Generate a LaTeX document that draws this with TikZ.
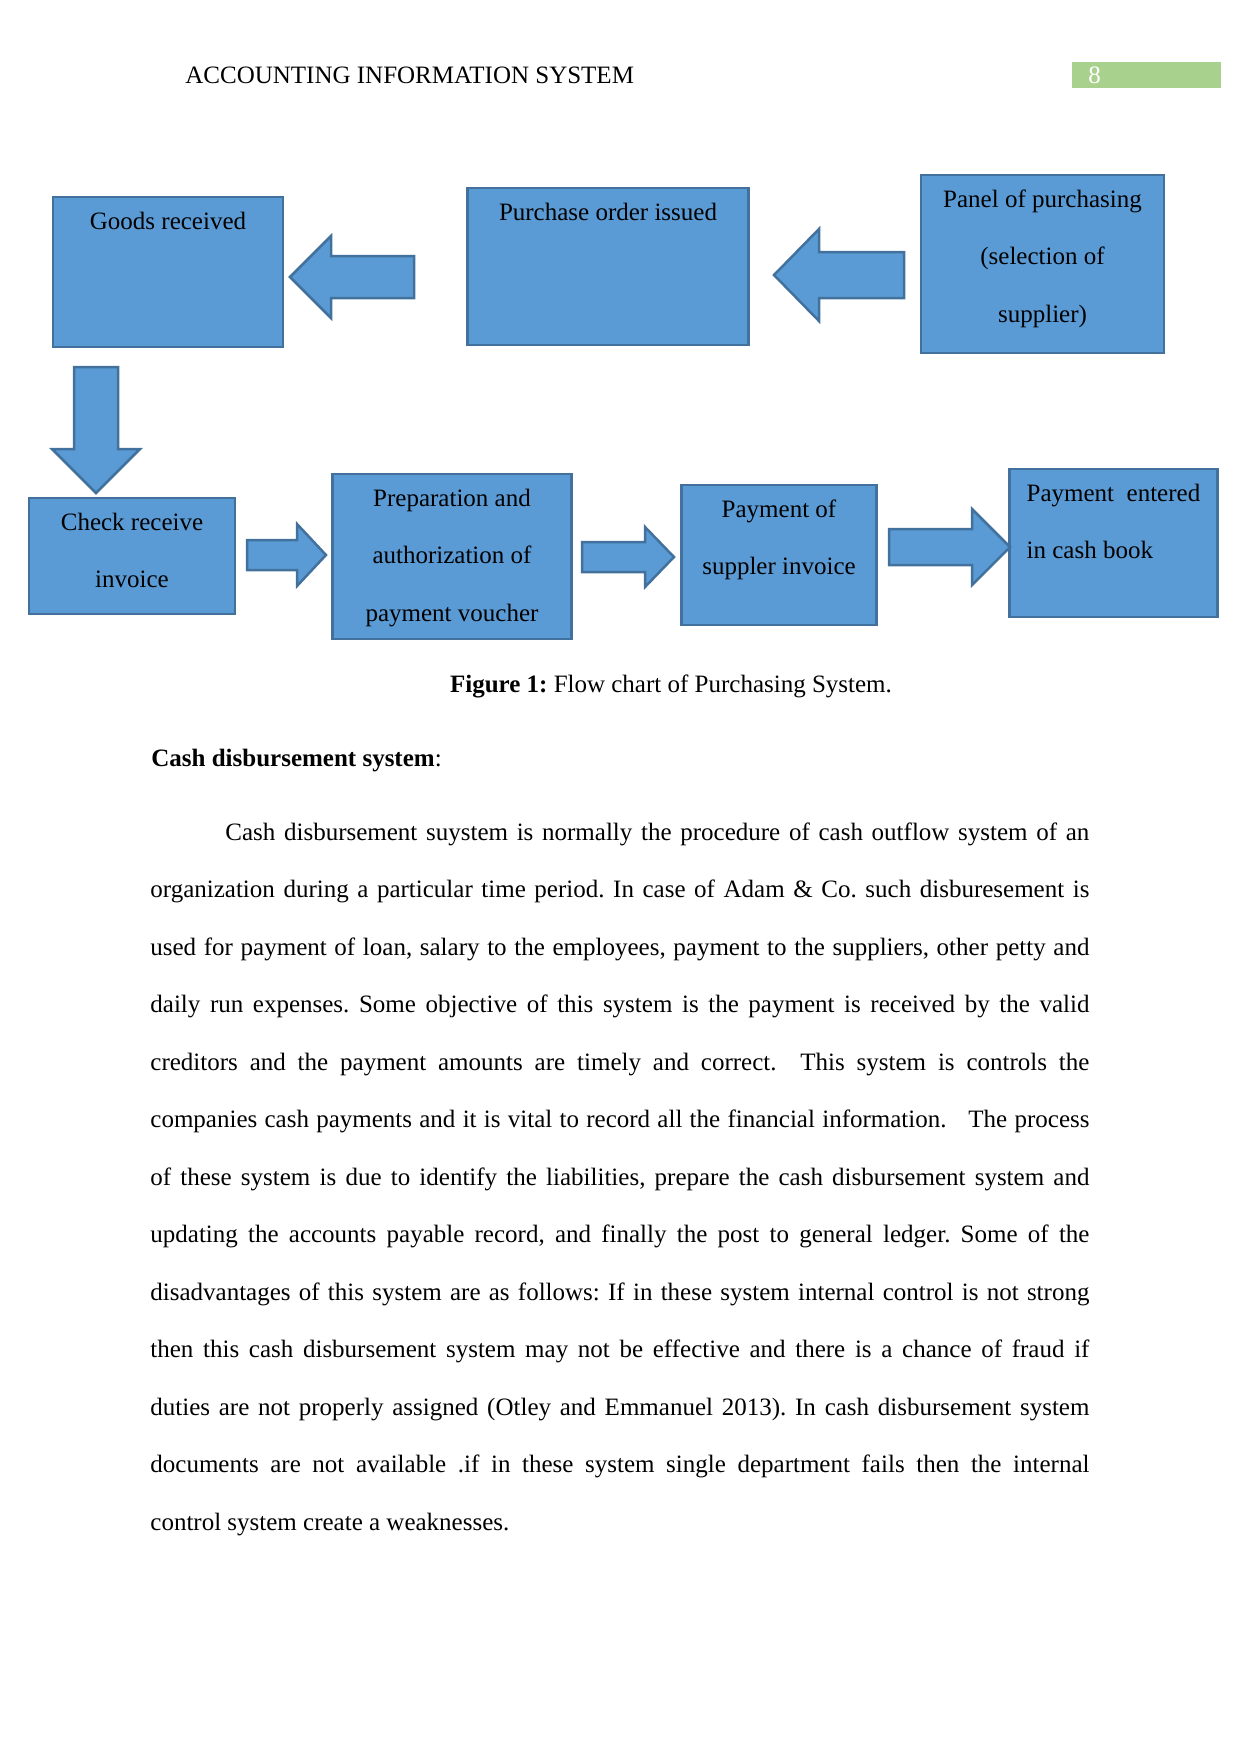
\documentclass[tikz,border=0pt]{standalone}
\usepackage{fontspec}
\setmainfont{Liberation Serif}
\usetikzlibrary{positioning, calc}
\definecolor{BoxBlue}{HTML}{5B9BD5}
\definecolor{BoxEdge}{HTML}{41719C}
\definecolor{PageGreen}{HTML}{A9D18E}
\hyphenpenalty=10000
\tolerance=9999
\frenchspacing
\newcommand{\px}{0.48pt}
% block arrow, horizontal: tail x, head base x, tip x, mid y, half shaft, half head
\newcommand{\harrow}[6]{%
  \draw[blockarr] (#1,#4-#5) -- (#2,#4-#5) -- (#2,#4-#6) -- (#3,#4)
    -- (#2,#4+#6) -- (#2,#4+#5) -- (#1,#4+#5) -- cycle;}
% block arrow, vertical: tail y, head base y, tip y, mid x, half shaft, half head
\newcommand{\varrow}[6]{%
  \draw[blockarr] (#4-#5,#1) -- (#4-#5,#2) -- (#4-#6,#2) -- (#4,#3)
    -- (#4+#6,#2) -- (#4+#5,#2) -- (#4+#5,#1) -- cycle;}

\begin{document}
\begin{tikzpicture}[
  x=\px, y=-\px,
  box/.style={draw=BoxEdge, fill=BoxBlue, line width=1.2pt, inner sep=0pt},
  boxtxt/.style={font=\fontsize{12}{27.6}\selectfont, align=center,
                 anchor=base, inner sep=0pt},
  blockarr/.style={draw=BoxEdge, fill=BoxBlue, line width=1.2pt},
  body/.style={font=\fontsize{12}{27.6}\selectfont, inner sep=0pt,
               anchor=base west},
]
\useasboundingbox (0,0) rectangle (1241,1754);

% page header
\node[body] (title) at (185,83) {ACCOUNTING INFORMATION SYSTEM};
\node[fill=PageGreen, minimum width=149*\px, minimum height=26*\px,
      inner sep=0pt] (pg) at (1146.5,75) {};
\node[body, text=white] (pgnum) at (1088,83) {8};

% flow chart boxes
\node[box, minimum width=230*\px, minimum height=150*\px] (goods) at (168,272) {};
\node[box, minimum width=281*\px, minimum height=157*\px] (po) at (608,266.5) {};
\node[box, minimum width=243*\px, minimum height=178*\px] (panel) at (1042.5,264) {};
\node[box, minimum width=206*\px, minimum height=116*\px] (check) at (132,556) {};
\node[box, minimum width=239*\px, minimum height=165*\px] (prep) at (452,556.5) {};
\node[box, minimum width=195*\px, minimum height=140*\px] (payof) at (779,555) {};
\node[box, minimum width=208*\px, minimum height=148*\px] (entered) at (1113.5,543) {};

% box texts (anchored on the last line)
\node[boxtxt] (goodsT) at ([yshift=-33.5*\px]goods.north) {Goods received};
\node[boxtxt] (poT) at ([yshift=-33.5*\px]po.north) {Purchase order issued};
\node[boxtxt] (panelT) at ([yshift=-148.5*\px]panel.north)
  {Panel of purchasing\\(selection of\\supplier)};
\node[boxtxt] (checkT) at ([yshift=-91*\px]check.north) {Check receive\\invoice};
\node[boxtxt] (prepT) at ([yshift=-148.5*\px]prep.north)
  {Preparation and\\authorization of\\payment voucher};
\node[boxtxt] (payofT) at ([yshift=-91*\px]payof.north) {Payment of\\suppler invoice};
\node[boxtxt, anchor=base west, align=left] (enteredT)
  at ([xshift=18*\px, yshift=-91*\px]entered.north west)
  {Payment\ \ entered\\in cash book};

% block arrows
\harrow{414}{331}{290}{277}{21}{41}
\harrow{904}{819}{774}{275}{23}{46}
\varrow{367}{449}{493}{96}{22}{44}
\harrow{247}{297}{326}{555}{15}{31}
\harrow{582}{645}{674}{557}{15}{30}
\harrow{889}{972}{1010}{547}{18}{38}

% caption
\node[boxtxt] (cap) at (671,692) {\textbf{Figure 1:} Flow chart of Purchasing System.};

% section text
\node[body] (head) at (151,766) {\textbf{Cash disbursement system}:};
\node[body, text width=450.72pt, align=justify] (para) at (150,840)
  {\hspace*{36pt}Cash disbursement suystem is normally the procedure of cash outflow system of an\linebreak
  organization during a particular time period. In case of Adam \& Co. such disburesement is\linebreak
  used for payment of loan, salary to the employees, payment to the suppliers, other petty and\linebreak
  daily run expenses. Some objective of this system is the payment is received by the valid\linebreak
  creditors and the payment amounts are timely and correct.\ \ This system is controls the\linebreak
  companies cash payments and it is vital to record all the financial information.\ \ \ The process\linebreak
  of these system is due to identify the liabilities, prepare the cash disbursement system and\linebreak
  updating the accounts payable record, and finally the post to general ledger. Some of the\linebreak
  disadvantages of this system are as follows: If in these system internal control is not strong\linebreak
  then this cash disbursement system may not be effective and there is a chance of fraud if\linebreak
  duties are not properly assigned (Otley and Emmanuel 2013). In cash disbursement system\linebreak
  documents are not available .if in these system single department fails then the internal\linebreak
  control system create a weaknesses.};
\end{tikzpicture}
\end{document}
